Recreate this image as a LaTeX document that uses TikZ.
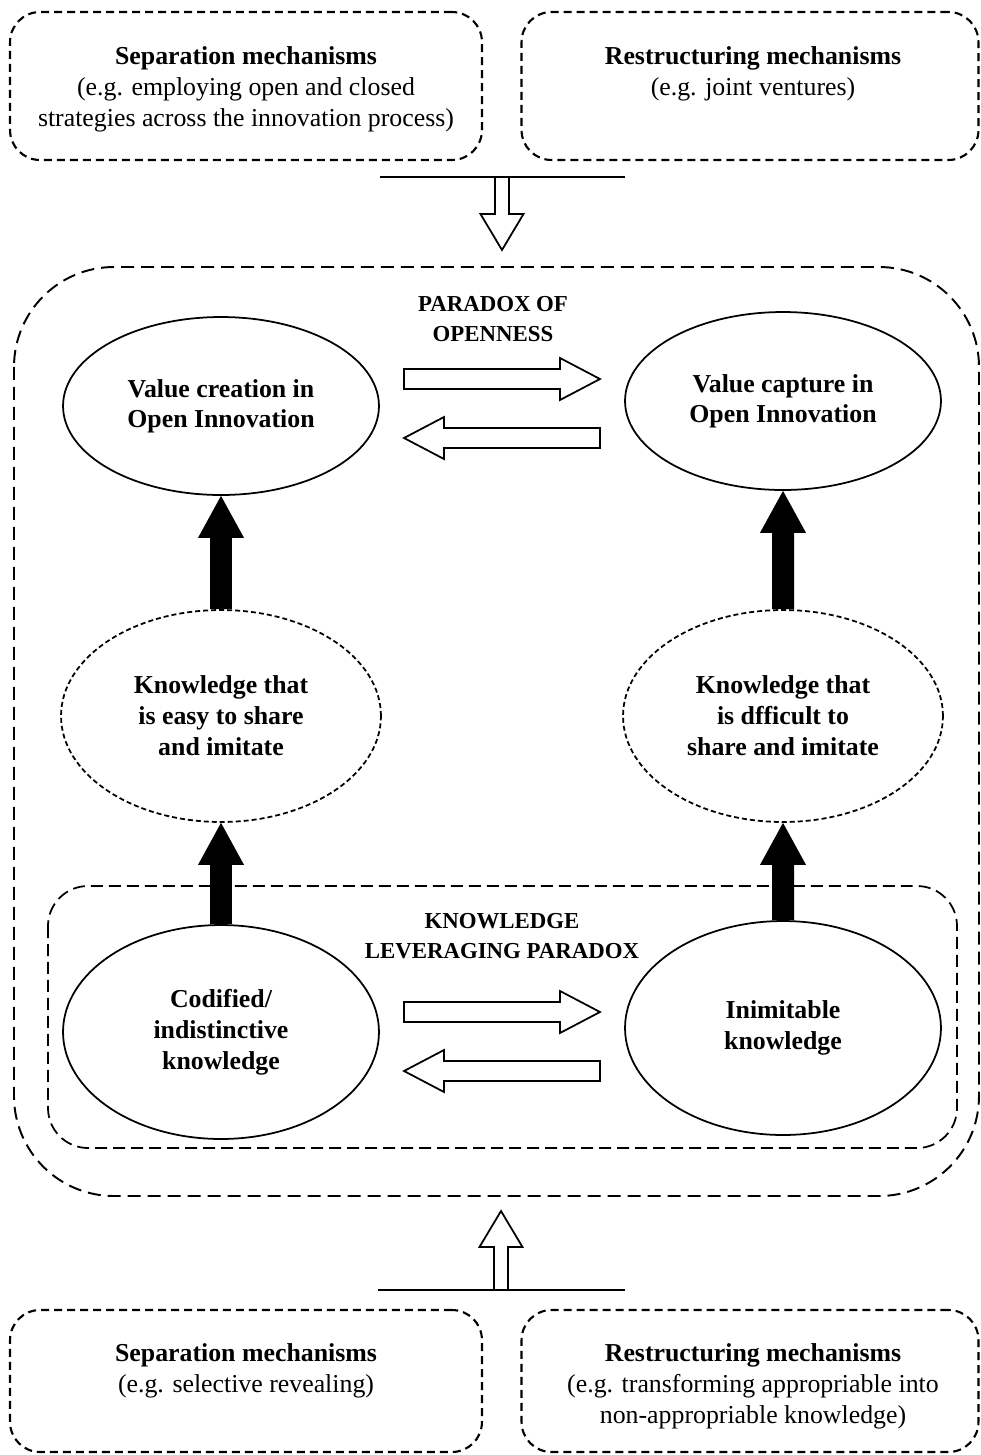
\documentclass[tikz,border=0pt]{standalone}
\usepackage{fontspec}
\setmainfont{Liberation Serif}
\usetikzlibrary{shapes.geometric,calc}
\def\myhsw{0.2cm}\def\myhhw{0.42cm}\def\myhhl{0.8cm}
\def\myvsw{0.14cm}\def\myvhw{0.43cm}\def\myvhl{0.72cm}
\def\mybsw{0.22cm}\def\mybhw{0.46cm}\def\mybhl{0.84cm}
% hollow horizontal arrow with closed back
\newcommand{\hollowH}[2]{\draw[hollow] let \p1=(#1), \p2=(#2), \n1={sign(\x2-\x1)} in
 (\x1,{\y1+\myhsw}) -- ({\x2-(\n1)*\myhhl},{\y1+\myhsw}) -- ({\x2-(\n1)*\myhhl},{\y1+\myhhw}) -- (\x2,\y1)
 -- ({\x2-(\n1)*\myhhl},{\y1-\myhhw}) -- ({\x2-(\n1)*\myhhl},{\y1-\myhsw}) -- (\x1,{\y1-\myhsw}) -- cycle;}
% hollow vertical arrow with open back
\newcommand{\hollowV}[2]{\draw[hollow] let \p1=(#1), \p2=(#2), \n1={sign(\y2-\y1)} in
 ({\x1+\myvsw},\y1) -- ({\x1+\myvsw},{\y2-(\n1)*\myvhl}) -- ({\x1+\myvhw},{\y2-(\n1)*\myvhl}) -- (\x1,\y2)
 -- ({\x1-\myvhw},{\y2-(\n1)*\myvhl}) -- ({\x1-\myvsw},{\y2-(\n1)*\myvhl}) -- ({\x1-\myvsw},\y1);}
% solid black vertical arrow
\newcommand{\blackV}[2]{\fill[black] let \p1=(#1), \p2=(#2), \n1={sign(\y2-\y1)} in
 ({\x1+\mybsw},\y1) -- ({\x1+\mybsw},{\y2-(\n1)*\mybhl}) -- ({\x1+\mybhw},{\y2-(\n1)*\mybhl}) -- (\x1,\y2)
 -- ({\x1-\mybhw},{\y2-(\n1)*\mybhl}) -- ({\x1-\mybsw},{\y2-(\n1)*\mybhl}) -- ({\x1-\mybsw},\y1) -- cycle;}
\begin{document}
\begin{tikzpicture}[x=0.02cm,y=-0.02cm,
  font=\fontsize{14.7}{17.6}\selectfont,
  hollow/.style={draw=black,line width=1pt,line join=miter},
  mbox/.style={draw,line width=1.2pt,dash pattern=on 0.16cm off 0.1cm,rounded corners=0.6cm,inner sep=0pt},
  boxtext/.style={anchor=north,align=center,inner sep=0pt},
  solidell/.style={ellipse,draw,line width=1pt,inner sep=0pt,align=center,font=\fontsize{14.7}{17.2}\selectfont\bfseries},
  dashell/.style={ellipse,draw,line width=1pt,dash pattern=on 0.1cm off 0.06cm,inner sep=0pt,align=center,font=\fontsize{14.7}{17.6}\selectfont\bfseries},
  captitle/.style={align=center,inner sep=0pt,font=\fontsize{13}{17}\selectfont\bfseries},
  outerdash/.style={line width=1.1pt,dash pattern=on 0.26cm off 0.14cm,rounded corners=2cm},
  innerdash/.style={line width=1pt,dash pattern=on 0.24cm off 0.12cm,rounded corners=0.8cm},
  thinline/.style={line width=1pt}]
\fill[white] (0,0) rectangle (981,1455);
\useasboundingbox (0,0) rectangle (981,1455);

% top boxes
\node[mbox,minimum width=9.44cm,minimum height=2.96cm] (tlbox) at (246,86) {};
\node[mbox,minimum width=9.14cm,minimum height=2.96cm] (trbox) at (750,86) {};
\node[boxtext] (tltext) at (246,46) {\textbf{Separation mechanisms}\\(e.g. employing open and closed\\strategies across the innovation process)};
\node[boxtext] (trtext) at (753,46) {\textbf{Restructuring mechanisms}\\(e.g. joint ventures)};

% bottom boxes
\node[mbox,minimum width=9.44cm,minimum height=2.84cm] (blbox) at (246,1381) {};
\node[mbox,minimum width=9.14cm,minimum height=2.84cm] (brbox) at (750,1381) {};
\node[boxtext] (bltext) at (246,1343) {\textbf{Separation mechanisms}\\(e.g. selective revealing)};
\node[boxtext] (brtext) at (753,1343) {\textbf{Restructuring mechanisms}\\(e.g. transforming appropriable into\\non-appropriable knowledge)};

% outer and inner dashed frames
\draw[outerdash] (14,267) rectangle (979,1196);
\draw[innerdash] (48,886) rectangle (957,1148);

% titles
\node[captitle] (potitle) at (493,319) {PARADOX OF\\OPENNESS};
\node[captitle] (kltitle) at (502,936) {KNOWLEDGE\\LEVERAGING PARADOX};

% ellipses
\node[solidell,minimum width=6.32cm,minimum height=3.56cm] (vc) at (221,406) {Value creation in\\Open Innovation};
\node[solidell,minimum width=6.32cm,minimum height=3.56cm] (vk) at (783,401) {Value capture in\\Open Innovation};
\node[dashell,minimum width=6.4cm,minimum height=4.24cm] (ke) at (221,716) {Knowledge that\\is easy to share\\and imitate};
\node[dashell,minimum width=6.4cm,minimum height=4.24cm] (kd) at (783,716) {Knowledge that\\is dfficult to\\share and imitate};
\node[solidell,minimum width=6.32cm,minimum height=4.28cm,font=\fontsize{14.7}{17.6}\selectfont\bfseries] (cod) at (221,1032) {Codified/\\indistinctive\\knowledge};
\node[solidell,minimum width=6.32cm,minimum height=4.28cm,font=\fontsize{14.7}{17.6}\selectfont\bfseries] (inim) at (783,1028) {Inimitable\\knowledge};

% black arrows
\blackV{ke.north}{vc.south}
\blackV{kd.north}{vk.south}
\blackV{cod.north}{ke.south}
\blackV{inim.north}{kd.south}

% hollow horizontal arrows
\coordinate (poRs) at (404,379);
\coordinate (poRe) at (600,379);
\coordinate (poLs) at (600,438);
\coordinate (poLe) at (404,438);
\coordinate (klRs) at (404,1012);
\coordinate (klRe) at (600,1012);
\coordinate (klLs) at (600,1071);
\coordinate (klLe) at (404,1071);
\hollowH{poRs}{poRe}
\hollowH{poLs}{poLe}
\hollowH{klRs}{klRe}
\hollowH{klLs}{klLe}

% top connector
\coordinate (tbarL) at (380,177);
\coordinate (tbarR) at (625,177);
\coordinate (tarrS) at (502,177);
\coordinate (tarrE) at (502,250);
\draw[thinline] (tbarL) -- (tbarR);
\hollowV{tarrS}{tarrE}

% bottom connector
\coordinate (bbarL) at (378,1290);
\coordinate (bbarR) at (625,1290);
\coordinate (barrS) at (501,1290);
\coordinate (barrE) at (501,1211);
\draw[thinline] (bbarL) -- (bbarR);
\hollowV{barrS}{barrE}
\end{tikzpicture}
\end{document}
